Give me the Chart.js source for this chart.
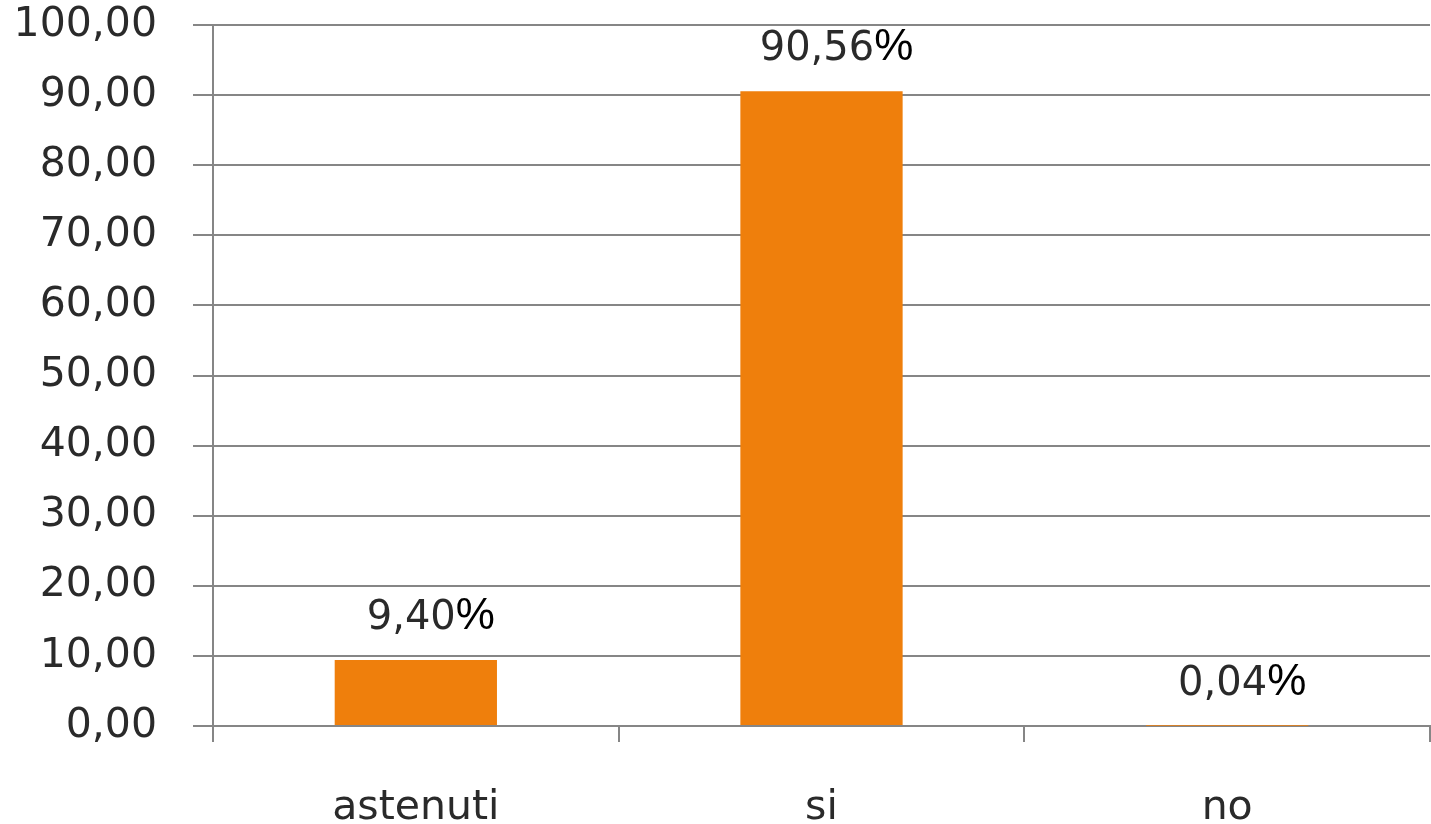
<!DOCTYPE html>
<html>
<head>
<meta charset="utf-8">
<script src="https://cdn.jsdelivr.net/npm/chart.js@4/dist/chart.umd.min.js"></script>
<style>
  html, body { margin: 0; padding: 0; background: #fff; }
  #wrap { width: 1431px; height: 824px; position: relative; }
</style>
</head>
<body>
<div id="wrap"><canvas id="chart-canvas"></canvas></div>
<script>
const categories = ["astenuti", "si", "no"];
const percentages = [9.40, 90.56, 0.04];
const yTicks = [0, 10, 20, 30, 40, 50, 60, 70, 80, 90, 100];

const comma = (v) => v.toFixed(2).replace(".", ",");

// value labels above the bars: number in the axis font, "%" in another one
const barLabels = {
  id: "barLabels",
  afterDatasetsDraw(chart) {
    const ctx = chart.ctx;
    const meta = chart.getDatasetMeta(0);
    ctx.save();
    ctx.textBaseline = "alphabetic";
    meta.data.forEach((bar, i) => {
      const num = comma(percentages[i]);
      ctx.font = "40px 'DejaVu Sans'";
      const w1 = ctx.measureText(num).width;
      ctx.font = "44px 'Liberation Sans'";
      const w2 = ctx.measureText("%").width;
      const x0 = bar.x + 15 - (w1 + w2) / 2;
      const y = bar.y - 31;
      ctx.font = "40px 'DejaVu Sans'";
      ctx.fillStyle = "#2a2a2a";
      ctx.textAlign = "left";
      ctx.fillText(num, x0, y);
      ctx.font = "44px 'Liberation Sans'";
      ctx.fillStyle = "#000";
      ctx.fillText("%", x0 + w1, y);
    });
    ctx.restore();
  }
};

new Chart(document.getElementById("chart-canvas").getContext("2d"), {
  type: "bar",
  data: {
    labels: categories,
    datasets: [
      {
        data: percentages,
        backgroundColor: "#EF7F0C",
        barPercentage: 0.4,
        categoryPercentage: 1,
      },
    ],
  },
  options: {
    responsive: true,
    maintainAspectRatio: false,
    animation: false,
    layout: { padding: { top: 25, right: 1, left: 0, bottom: 0 } },
    plugins: { legend: { display: false }, tooltip: { enabled: false } },
    scales: {
      x: {
        afterFit: (s) => { s.height = 98; s.paddingLeft = 0; s.paddingRight = 0; },
        grid: {
          offset: true,
          drawOnChartArea: false,
          drawTicks: true,
          tickLength: 16,
          color: "#868686",
          lineWidth: 2,
        },
        border: { color: "#868686", width: 2 },
        ticks: {
          color: "#2a2a2a",
          font: { family: "'DejaVu Sans'", size: 41 },
          padding: 42,
        },
      },
      y: {
        min: 0,
        max: 100,
        afterFit: (s) => { s.width = 213; s.paddingTop = 0; s.paddingBottom = 0; },
        afterBuildTicks: (s) => { s.ticks = yTicks.map((v) => ({ value: v })); },
        grid: {
          color: "#868686",
          lineWidth: 2,
          tickLength: 20,
        },
        border: { color: "#868686", width: 2 },
        ticks: {
          color: "#2a2a2a",
          font: { family: "'DejaVu Sans'", size: 41 },
          padding: 36,
          callback: (v) => comma(v),
        },
      },
    },
  },
  plugins: [barLabels],
});
</script>
</body>
</html>
